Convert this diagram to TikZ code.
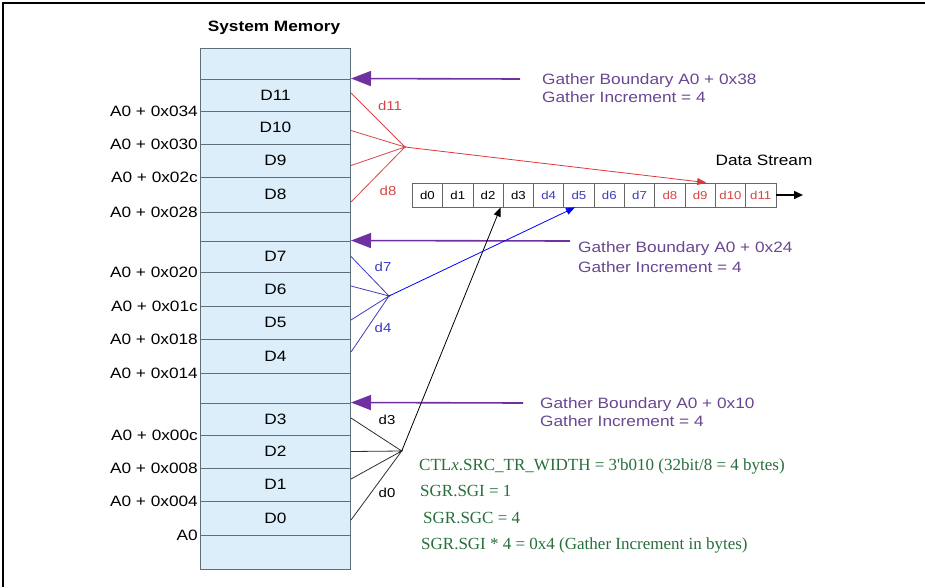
\documentclass[tikz,border=0pt]{standalone}
\usepackage{fontspec}
\setmainfont{Liberation Sans}[FakeStretch=1.15]
\newfontfamily\notefont{Liberation Serif}
\usepackage{xcolor}
\usetikzlibrary{arrows.meta}
\definecolor{memfill}{RGB}{219,238,250}
\definecolor{memline}{RGB}{95,110,120}
\definecolor{gatherpurple}{RGB}{112,48,160}
\definecolor{gathertext}{RGB}{105,70,145}
\definecolor{fanred}{RGB}{215,70,70}
\definecolor{fanblue}{RGB}{60,60,190}
\definecolor{fanblack}{RGB}{45,45,45}
\definecolor{notegreen}{RGB}{40,110,60}
\tikzset{
  memcell/.style={
    draw=memline,
    fill=memfill,
    line width=1pt,
    minimum width=150pt,
    inner sep=0pt,
    font=\fontsize{15}{18}\selectfont
  },
  addr/.style={
    anchor=east,
    inner sep=0pt,
    font=\fontsize{15}{18}\selectfont
  },
  streamcell/.style={
    draw=black!60,
    line width=0.8pt,
    minimum width=30.3pt,
    minimum height=24pt,
    inner sep=0pt,
    font=\fontsize{11.5}{13}\selectfont
  },
  fanlabel/.style={
    inner sep=0pt,
    font=\fontsize{13}{15}\selectfont
  },
  gathernote/.style={
    anchor=west,
    align=left,
    inner sep=0pt,
    text=gathertext,
    font=\fontsize{15}{18}\selectfont
  },
  regnote/.style={
    anchor=west,
    inner sep=0pt,
    text=notegreen,
    font=\notefont\fontsize{17}{19}\selectfont
  },
  gatherarrow/.style={draw=gatherpurple, line width=1.6pt, -{Triangle[length=20pt,width=15pt]}},
  redfan/.style={draw=fanred, line width=0.8pt},
  bluefan/.style={draw=fanblue, line width=0.8pt},
  blackfan/.style={draw=fanblack, line width=0.8pt}
}

\begin{document}
\begin{tikzpicture}[x=1pt,y=-1pt]
  \useasboundingbox (0,0) rectangle (925,587);
  \draw[line width=1.5pt] (3,587) -- (3,3) -- (925,3);

  \node[font=\bfseries\fontsize{15}{18}\selectfont] (title) at (274,28) {System Memory};

  % memory column, one node per word
  \foreach \ya/\yb/\nm/\lbl in {48/79/memtop/{},79/111/m11/D11,111/144/m10/D10,144/177/m9/D9,
      177/212/m8/D8,212/241/gap2/{},241/272/m7/D7,272/306/m6/D6,306/339/m5/D5,339/373/m4/D4,
      373/403/gap1/{},403/435/m3/D3,435/468/m2/D2,468/501/m1/D1,501/535/m0/D0,535/569/membot/{}}
    \node[memcell, minimum height={(\yb-\ya)*1pt}] (\nm) at (275.5,{(\ya+\yb)/2}) {\lbl};

  \foreach \nm/\lbl in {m11/A0 + 0x034,m10/A0 + 0x030,m9/A0 + 0x02c,m8/A0 + 0x028,
      m7/A0 + 0x020,m6/A0 + 0x01c,m5/A0 + 0x018,m4/A0 + 0x014,
      m3/A0 + 0x00c,m2/A0 + 0x008,m1/A0 + 0x004,m0/A0}
    \node[addr] (a\nm) at ([xshift=-2pt]\nm.south west) {\lbl};

  % data stream
  \foreach \i/\c in {0/black,1/black,2/black,3/black,4/fanblue,5/fanblue,6/fanblue,7/fanblue,
      8/fanred,9/fanred,10/fanred,11/fanred}
    \node[streamcell, text=\c] (s\i) at ({412.3+30.3*(\i+0.5)},195) {d\i};
  \node[font=\fontsize{15}{18}\selectfont] (dstream) at (764,160) {Data Stream};
  \coordinate (streamend) at (803,195);
  \draw[line width=1.5pt, -{Triangle[length=9pt,width=8pt]}] (s11.east) -- (streamend);

  % gather boundaries
  \coordinate (gtail1) at (520,79);
  \coordinate (gtail2) at (570,241);
  \coordinate (gtail3) at (523,403);
  \draw[gatherarrow] (gtail1) -- (m11.north east);
  \draw[gatherarrow] (gtail2) -- (m7.north east);
  \draw[gatherarrow] (gtail3) -- (m3.north east);
  \node[gathernote, execute at begin node=\setlength{\baselineskip}{18pt}] (gb1) at (542,88)
    {Gather Boundary A0 + 0x38\\Gather Increment = 4};
  \node[gathernote, execute at begin node=\setlength{\baselineskip}{20pt}] (gb2) at (578,257)
    {Gather Boundary A0 + 0x24\\Gather Increment = 4};
  \node[gathernote, execute at begin node=\setlength{\baselineskip}{18pt}] (gb3) at (540,412)
    {Gather Boundary A0 + 0x10\\Gather Increment = 4};

  % fans into the stream
  \coordinate (redhub) at (405,147);
  \coordinate (bluehub) at (389,296);
  \coordinate (blackhub) at (401.7,451);
  \draw[redfan] ([yshift=2pt]m11.east) -- (redhub) -- ([yshift=-3pt]m10.east)
        ([yshift=-5pt]m9.east) -- (redhub) -- ([yshift=-7.5pt]m8.east);
  \draw[redfan, -{Triangle[length=9pt,width=7pt]}, fanred!80!red] (redhub) -- ([xshift=6pt]s9.north);
  \draw[bluefan] (m7.east) -- (bluehub) -- ([yshift=3pt]m6.east)
        ([yshift=2.5pt]m5.east) -- (bluehub) -- ([yshift=4pt]m4.east);
  \draw[bluefan, -{Triangle[length=9pt,width=7pt]}, blue] (bluehub) -- ([xshift=-4pt]s5.south);
  \draw[blackfan] ([yshift=1pt]m3.east) -- (blackhub) -- (m2.east)
        ([yshift=5.5pt]m1.east) -- (blackhub) -- ([yshift=-2pt]m0.east);
  \draw[blackfan, -{Triangle[length=9pt,width=7pt]}, black] (blackhub) -- ([xshift=-3pt]s2.south east);

  \node[fanlabel, text=fanred] (l11) at (390,106) {d11};
  \node[fanlabel, text=fanred] (l8) at (388,191) {d8};
  \node[fanlabel, text=fanblue] (l7) at (383,267) {d7};
  \node[fanlabel, text=fanblue] (l4) at (383,328) {d4};
  \node[fanlabel] (l3) at (387,420) {d3};
  \node[fanlabel] (l0) at (387,493) {d0};

  % register settings
  \node[regnote] (ctl) at (419,466) {CTL\textit{x}.SRC\_TR\_WIDTH = 3'b010 (32bit/8 = 4 bytes)};
  \node[regnote] (sgi) at (420,491) {SGR.SGI = 1};
  \node[regnote] (sgc) at (423,518) {SGR.SGC = 4};
  \node[regnote] (inc) at (421,545) {SGR.SGI * 4 = 0x4 (Gather Increment in bytes)};
\end{tikzpicture}
\end{document}
